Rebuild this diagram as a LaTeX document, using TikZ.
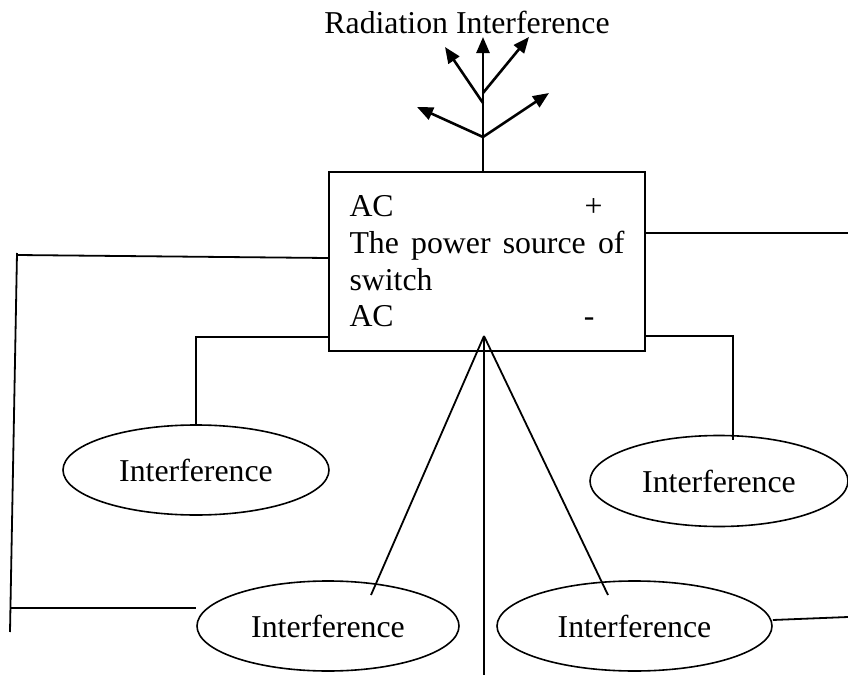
\documentclass[tikz,border=0pt]{standalone}
\usepackage{fontspec}
\setmainfont{Liberation Serif}
\usetikzlibrary{shapes,arrows.meta}

\begin{document}
\begin{tikzpicture}[x=0.5pt, y=-0.5pt, line width=0.9pt,
  txt/.style={font=\fontsize{15.9}{18.35}\selectfont},
  srcbox/.style={draw, txt, line width=1.1pt, text width=137.5pt, align=justify,
    minimum width=158pt, minimum height=89.5pt, inner xsep=10pt},
  intf/.style={draw, ellipse, txt, line width=0.8pt, inner sep=0pt},
  ant/.style={line width=1.3pt},
  ray/.style={ant, -{Triangle[length=8pt, width=6.5pt]}}]

  \useasboundingbox (0,0) rectangle (848,675);

  % the source and its interference
  \node[srcbox] (src) at (487,261.5)
    {\makebox[\linewidth][l]{AC\hfill+\hspace*{11pt}}\par
     The power source of switch\par
     \makebox[\linewidth][l]{AC\hfill-\hspace*{15pt}}};
  \node[intf, minimum width=133pt, minimum height=45pt] (intL) at (196,470) {Interference};
  \node[intf, minimum width=129pt, minimum height=45.5pt] (intR) at (719,481) {Interference};
  \node[intf, minimum width=131pt, minimum height=45pt] (intBL) at (328,626) {Interference};
  \node[intf, minimum width=137.5pt, minimum height=45pt] (intBR) at (634.5,626) {Interference};
  \node[txt, anchor=base] (rad) at (467,33) {Radiation Interference};

  % antenna
  \coordinate (a0) at (483,172);
  \coordinate (a1) at (483,137);
  \coordinate (a2) at (483,103);
  \coordinate (a3) at (483,93);
  \draw[ray] (a0) -- (483,37);
  \draw[ray] (a1) -- (417,107); % low left
  \draw[ray] (a1) -- (549,93);  % low right
  \draw[ray] (a2) -- (445,47);
  \draw[ray] (a3) -- (529,37);

  % free ends
  \coordinate (lt) at (17,255);
  \coordinate (lb) at (10,632);
  \coordinate (rt) at (848,233);
  \coordinate (rb) at (848,617);
  \coordinate (rk) at (733,440);
  \coordinate (apex) at (484,336);
  \coordinate (foot) at (484,675);

  \draw (src.west |- 0,258) -- (lt); %% src->left
  \draw (17,253) -- (lb);
  \draw (10,608) -- (intBL.west |- 0,608); %% left->intBL
  \draw (src.west |- 0,337) -| (intL.north); %% src->intL
  \draw (src.east |- rt) -- (rt); %% src->right
  \draw (src.east |- 0,336) -| (rk); %% src->intR
  \draw (intBR.east |- 0,620) -- (rb); %% intBR->right

  \draw (apex) -- (371,595); % to intBL
  \draw (apex) -- (608,595); % to intBR
  \draw (apex) -- (foot);

\end{tikzpicture}
\end{document}
